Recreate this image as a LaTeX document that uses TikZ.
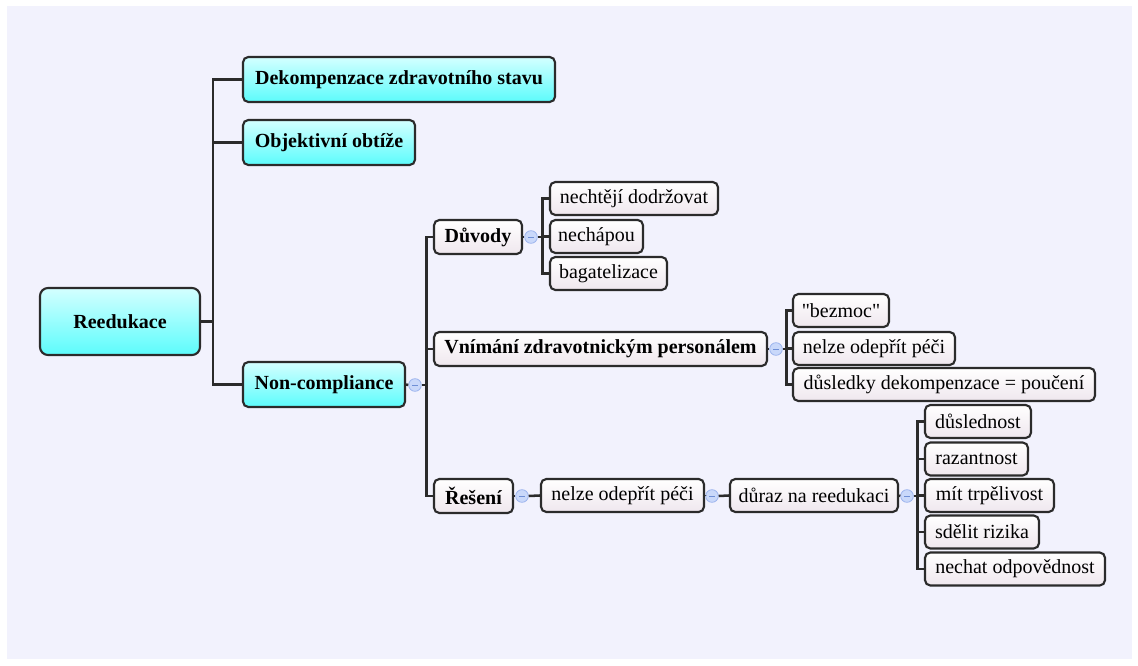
\documentclass[tikz,border=0pt]{standalone}
\usepackage{fontspec}
\setmainfont{Liberation Serif}
\newcommand{\sq}{\XeTeXglyph\XeTeXcharglyph"22\relax}
\definecolor{bgpanel}{HTML}{F2F2FD}
\definecolor{edge}{HTML}{2B2B2B}
\definecolor{cyantop}{HTML}{D4FFFF}
\definecolor{cyanbot}{HTML}{5CFCFC}
\definecolor{leaftop}{HTML}{FFFFFF}
\definecolor{leafbot}{HTML}{EFE7EE}
\definecolor{collfill}{HTML}{C9D8FA}
\definecolor{colldraw}{HTML}{9DB5EE}
\definecolor{collminus}{HTML}{6F8FD6}
\begin{document}
\begin{tikzpicture}[x=0.75pt,y=-0.75pt,
  box/.style={draw=edge,line width=1.6pt,rounded corners=4pt,inner sep=0pt,
    font=\fontsize{15}{18}\selectfont,text=black},
  main/.style={box,top color=cyantop,bottom color=cyanbot,font=\fontsize{15}{18}\selectfont\bfseries,minimum height=45*0.75pt},
  sub/.style={box,top color=leaftop,bottom color=leafbot,font=\fontsize{15}{18}\selectfont\bfseries,minimum height=34*0.75pt},
  leaf/.style={box,top color=leaftop,bottom color=leafbot,minimum height=33*0.75pt},
  coll/.style={circle,draw=colldraw,fill=collfill,line width=0.6pt,minimum size=9.5pt,inner sep=0pt,
    path picture={\draw[collminus,line width=0.6pt] ([xshift=2pt]path picture bounding box.center) -- ([xshift=-2pt]path picture bounding box.center);}},
  conn/.style={draw=edge,line width=1.9pt}]
\useasboundingbox (0,0) rectangle (1138,666);
\fill[white] (0,0) rectangle (1138,666);
\fill[bgpanel] (7,6) rectangle (1132,659);

% nodes
\node[main,minimum width=160*0.75pt,minimum height=67*0.75pt,rounded corners=6pt] (root) at (120,321.5) {Reedukace};
\node[main,minimum width=312*0.75pt] (dek) at (399,79.5) {Dekompenzace zdravotního stavu};
\node[main,minimum width=172*0.75pt] (obj) at (329,142.5) {Objektivní obtíže};
\node[main,minimum width=162*0.75pt] (nc) at (324,384.5) {Non-compliance};

\node[sub,minimum width=88*0.75pt] (duv) at (478,237) {Důvody};
\node[sub,minimum width=333*0.75pt] (vni) at (600.5,349) {Vnímání zdravotnickým personálem};
\node[sub,minimum width=79*0.75pt] (res) at (473.5,496) {Řešení};

\node[leaf,minimum width=168*0.75pt] (l1) at (634,198.5) {nechtějí dodržovat};
\node[leaf,minimum width=93*0.75pt] (l2) at (596.5,236.5) {nechápou};
\node[leaf,minimum width=117*0.75pt] (l3) at (608.5,273.5) {bagatelizace};

\node[leaf,minimum width=96*0.75pt] (b1) at (841,310.5) {\sq bezmoc\sq};
\node[leaf,minimum width=162*0.75pt] (b2) at (874,348.5) {nelze odepřít péči};
\node[leaf,minimum width=302*0.75pt] (b3) at (944,384.5) {důsledky dekompenzace = poučení};

\node[leaf,minimum width=163*0.75pt] (r1) at (622.5,495.5) {nelze odepřít péči};
\node[leaf,minimum width=168*0.75pt] (r2) at (814,495.5) {důraz na reedukaci};

\node[leaf,minimum width=106*0.75pt] (d1) at (978,421.5) {důslednost};
\node[leaf,minimum width=103*0.75pt] (d2) at (976.5,459) {razantnost};
\node[leaf,minimum width=129*0.75pt] (d3) at (989.5,495.5) {mít trpělivost};
\node[leaf,minimum width=114*0.75pt] (d4) at (982,532) {sdělit rizika};
\node[leaf,minimum width=180*0.75pt] (d5) at (1015,569) {nechat odpovědnost};

% collapse markers
\node[coll] (cnc) at (415,385) {};
\node[coll] (cduv) at (531,237) {};
\node[coll] (cvni) at (776,349) {};
\node[coll] (cres) at (522,496) {};
\node[coll] (cr1) at (712,496) {};
\node[coll] (cr2) at (907,496) {};

% connectors
\draw[conn] (root.east) -- ++(12,0) coordinate (t0);
\draw[conn] (t0) |- (dek.west);
\draw[conn] (t0) |- (obj.west);
\draw[conn] (t0) |- (nc.west);

\draw[conn] (nc.east) -- (cnc.west);
\draw[conn] (cnc.east) -- ++(4.5,0) coordinate (t1);
\draw[conn] (t1) |- (duv.west);
\draw[conn] (t1) |- (vni.west);
\draw[conn] (t1) |- (res.west);

\draw[conn] (duv.east) -- (cduv.west);
\draw[conn] (cduv.east) -- ++(4.5,0) coordinate (t2);
\draw[conn] (t2) |- (l1.west);
\draw[conn] (t2) |- (l2.west);
\draw[conn] (t2) |- (l3.west);

\draw[conn] (vni.east) -- (cvni.west);
\draw[conn] (cvni.east) -- ++(3.5,0) coordinate (t3);
\draw[conn] (t3) |- (b1.west);
\draw[conn] (t3) |- (b2.west);
\draw[conn] (t3) |- (b3.west);

\draw[conn] (res.east) -- (cres.west);
\draw[conn] (cres.east) -- (r1.west);
\draw[conn] (r1.east) -- (cr1.west);
\draw[conn] (cr1.east) -- (r2.west);
\draw[conn] (r2.east) -- (cr2.west);
\draw[conn] (cr2.east) -- ++(3.5,0) coordinate (t4);
\draw[conn] (t4) |- (d1.west);
\draw[conn] (t4) |- (d2.west);
\draw[conn] (t4) |- (d3.west);
\draw[conn] (t4) |- (d4.west);
\draw[conn] (t4) |- (d5.west);
\end{tikzpicture}
\end{document}
